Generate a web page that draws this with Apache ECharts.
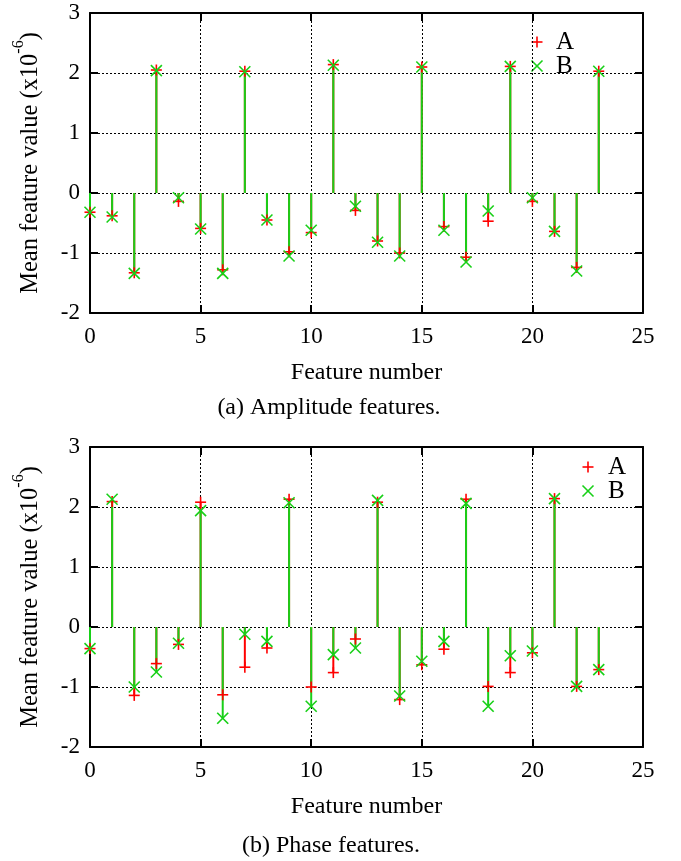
<!DOCTYPE html>
<html>
<head>
<meta charset="utf-8">
<script src="https://cdn.jsdelivr.net/npm/echarts@6/dist/echarts.min.js"></script>
<style>html,body{margin:0;padding:0;background:#fff}#c{width:681px;height:861px}</style>
</head>
<body>
<div id="c"></div>
<script>
const features = [0,1,2,3,4,5,6,7,8,9,10,11,12,13,14,15,16,17,18,19,20,21,22,23];
const ampA = [-0.32,-0.38,-1.33,2.05,-0.14,-0.59,-1.28,2.03,-0.45,-0.98,-0.66,2.14,-0.29,-0.80,-1.00,2.10,-0.56,-1.07,-0.47,2.11,-0.14,-0.64,-1.24,2.03];
const ampB = [-0.32,-0.40,-1.34,2.04,-0.08,-0.60,-1.34,2.02,-0.45,-1.05,-0.62,2.13,-0.22,-0.82,-1.05,2.10,-0.62,-1.15,-0.30,2.11,-0.08,-0.64,-1.30,2.03];
const phaseA = [-0.36,2.09,-1.14,-0.61,-0.29,2.08,-1.13,-0.67,-0.35,2.13,-1.00,-0.76,-0.20,2.08,-1.21,-0.63,-0.37,2.13,-0.99,-0.76,-0.43,2.14,-0.99,-0.71];
const phaseB = [-0.36,2.13,-1.00,-0.75,-0.27,1.94,-1.52,-0.12,-0.24,2.07,-1.32,-0.46,-0.35,2.11,-1.15,-0.57,-0.24,2.06,-1.32,-0.48,-0.40,2.14,-0.99,-0.71];
const xTicks = [0,5,10,15,20,25];
const yTicks = [-2,-1,0,1,2,3];
const seriesNames = ['A','B'];
const captions = ['(a) Amplitude features.','(b) Phase features.'];

const FONT = '"Liberation Serif","Times New Roman",serif';
const RED = '#ff0000';
const GREEN = '#18d018';

const chart = echarts.init(document.getElementById('c'), null, {renderer:'canvas'});

const grids = [
  {left:90, right:38, top:13, height:300},
  {left:90, right:38, top:447, height:300}
];

const xAxes = [], yAxes = [], series = [];
const tickStyle = {show:true, inside:true, length:8, lineStyle:{color:'#000', width:2}};
const axLine = {show:true, onZero:false, lineStyle:{color:'#000', width:2}};
const dotted = {show:true, lineStyle:{color:'#000', width:1, type:[2,2]}};

grids.forEach((g, i) => {
  xAxes.push({gridIndex:i, type:'value', position:'bottom', min:xTicks[0], max:xTicks[xTicks.length-1], interval:5,
    axisLine:axLine, axisTick:tickStyle, splitLine:dotted,
    axisLabel:{fontFamily:FONT, fontSize:23, color:'#000', margin:12},
    name:'Feature number', nameLocation:'middle', nameGap:48,
    nameTextStyle:{fontFamily:FONT, fontSize:24, color:'#000'}});
  xAxes.push({gridIndex:i, type:'value', position:'top', min:xTicks[0], max:xTicks[xTicks.length-1], interval:5,
    axisLine:axLine, axisTick:tickStyle, splitLine:{show:false}, axisLabel:{show:false}});
  yAxes.push({gridIndex:i, type:'value', position:'left', min:yTicks[0], max:yTicks[yTicks.length-1], interval:1,
    axisLine:axLine, axisTick:tickStyle, splitLine:dotted,
    axisLabel:{fontFamily:FONT, fontSize:23, color:'#000', margin:10},
    name:'{n|Mean feature value (x10}{sup|-6}{n|)}', nameLocation:'middle', nameGap:47, nameRotate:90,
    nameTextStyle:{fontFamily:FONT, fontSize:24, color:'#000',
      rich:{n:{fontFamily:FONT, fontSize:24.5, color:'#000', lineHeight:32, verticalAlign:'bottom'},
            sup:{fontFamily:FONT, fontSize:16, color:'#000', lineHeight:32, verticalAlign:'top'}}}});
  yAxes.push({gridIndex:i, type:'value', position:'right', min:yTicks[0], max:yTicks[yTicks.length-1], interval:1,
    axisLine:axLine, axisTick:tickStyle, splitLine:{show:false}, axisLabel:{show:false}});
});

function stemSeries(idx, data, color, z) {
  return {type:'custom', xAxisIndex:idx*2, yAxisIndex:idx*2, z:z,
    data: features.map((f,k)=>[f, data[k]]), encode:{x:0,y:1}, clip:false,
    renderItem:function(params, api){
      const x = api.value(0), v = api.value(1);
      const p0 = api.coord([x, 0]), p1 = api.coord([x, v]);
      return {type:'line', shape:{x1:p0[0], y1:p0[1], x2:p1[0], y2:p1[1]}, style:{stroke:color, lineWidth:2}};
    }};
}
function markerSeries(idx, name, data, color, kind, z) {
  return {type:'custom', name:name, xAxisIndex:idx*2, yAxisIndex:idx*2, z:z,
    data: features.map((f,k)=>[f, data[k]]), encode:{x:0,y:1}, clip:false,
    renderItem:function(params, api){
      const p = api.coord([api.value(0), api.value(1)]);
      const s = 5.5;
      const st = {stroke:color, lineWidth:1.6};
      if (kind === 'plus') {
        return {type:'group', children:[
          {type:'line', shape:{x1:p[0]-s, y1:p[1], x2:p[0]+s, y2:p[1]}, style:st},
          {type:'line', shape:{x1:p[0], y1:p[1]-s, x2:p[0], y2:p[1]+s}, style:st}]};
      }
      return {type:'group', children:[
        {type:'line', shape:{x1:p[0]-s, y1:p[1]-s, x2:p[0]+s, y2:p[1]+s}, style:st},
        {type:'line', shape:{x1:p[0]-s, y1:p[1]+s, x2:p[0]+s, y2:p[1]-s}, style:st}]};
    }};
}

[[ampA, ampB],[phaseA, phaseB]].forEach((pair, i) => {
  series.push(stemSeries(i, pair[0], RED, 2));
  series.push(stemSeries(i, pair[1], GREEN, 3));
  series.push(markerSeries(i, seriesNames[0], pair[0], RED, 'plus', 4));
  series.push(markerSeries(i, seriesNames[1], pair[1], GREEN, 'cross', 5));
});

function legendGroup(mx, my, tx, gap, cover) {
  const s = 5.5;
  const children = [];
  if (cover) children.push({type:'rect', shape:{x:mx+4, y:my+gap-9, width:38, height:18}, style:{fill:'#fff'}});
  children.push(
    {type:'line', shape:{x1:mx-s, y1:my, x2:mx+s, y2:my}, style:{stroke:RED, lineWidth:1.6}},
    {type:'line', shape:{x1:mx, y1:my-s, x2:mx, y2:my+s}, style:{stroke:RED, lineWidth:1.6}},
    {type:'line', shape:{x1:mx-s, y1:my+gap-s, x2:mx+s, y2:my+gap+s}, style:{stroke:GREEN, lineWidth:1.6}},
    {type:'line', shape:{x1:mx-s, y1:my+gap+s, x2:mx+s, y2:my+gap-s}, style:{stroke:GREEN, lineWidth:1.6}},
    {type:'text', x:tx, y:my, style:{text:seriesNames[0], font:'25px '+FONT, fill:'#000', verticalAlign:'middle', align:'left'}},
    {type:'text', x:tx, y:my+gap, style:{text:seriesNames[1], font:'25px '+FONT, fill:'#000', verticalAlign:'middle', align:'left'}}
  );
  return {type:'group', z:100, children:children};
}

const graphic = [
  legendGroup(537, 42, 556, 24, true),
  legendGroup(588, 467, 608, 24, false),
  {type:'text', x:329, y:408, z:100, style:{text:captions[0], font:'24px '+FONT, fill:'#000', align:'center', verticalAlign:'middle'}},
  {type:'text', x:331, y:846, z:100, style:{text:captions[1], font:'24px '+FONT, fill:'#000', align:'center', verticalAlign:'middle'}}
];

chart.setOption({
  animation:false,
  backgroundColor:'#fff',
  grid:grids,
  xAxis:xAxes,
  yAxis:yAxes,
  series:series,
  graphic:graphic
});
</script>
</body>
</html>
